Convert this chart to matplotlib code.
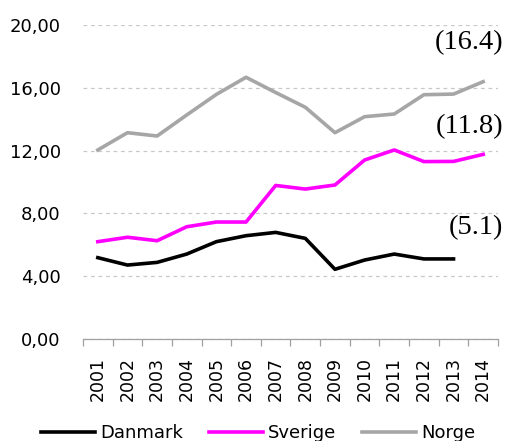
import matplotlib
matplotlib.use("Agg")
import matplotlib.pyplot as plt
import numpy as np

years = ["2001", "2002", "2003", "2004", "2005", "2006", "2007",
         "2008", "2009", "2010", "2011", "2012", "2013", "2014"]
danmark = [5.18, 4.71, 4.88, 5.41, 6.20, 6.58, 6.79, 6.41, 4.44, 5.03, 5.41, 5.10, 5.10, np.nan]
sverige = [6.20, 6.48, 6.26, 7.15, 7.45, 7.45, 9.78, 9.55, 9.81, 11.40, 12.04, 11.30, 11.31, 11.76]
norge = [12.04, 13.14, 12.93, 14.27, 15.58, 16.67, 15.70, 14.76, 13.14, 14.16, 14.33, 15.56, 15.60, 16.39]
annotations = ["(16.4)", "(11.8)", "(5.1)"]
annot_y = [18.9, 13.5, 7.07]

plt.rcParams['font.family'] = ['DejaVu Sans']
fig = plt.figure(figsize=(5.07, 4.41), dpi=100)
ax = fig.add_axes([83/507, 102/441, 415/507, 314/441])

x = np.arange(len(years))
ax.plot(x, danmark, color="black", lw=2.6, label="Danmark", solid_joinstyle="round")
ax.plot(x, sverige, color="#FF00FF", lw=2.6, label="Sverige", solid_joinstyle="round")
ax.plot(x, norge, color="#A6A6A6", lw=2.6, label="Norge", solid_joinstyle="round")

ax.set_xlim(-0.5, len(years) - 0.5)
ax.set_ylim(0, 20)
ax.set_yticks([0, 4, 8, 12, 16, 20])
ax.set_yticklabels(["0,00", "4,00", "8,00", "12,00", "16,00", "20,00"], fontsize=13)
ax.yaxis.grid(True, color="#C8C8C8", linestyle=(0, (3, 3)), lw=0.9)
ax.set_axisbelow(True)

ax.set_xticks(x)
ax.set_xticklabels(years, rotation=90, fontsize=12.5)
ax.set_xticks(np.arange(-0.5, len(years), 1.0), minor=True)
ax.tick_params(axis="x", which="major", length=0, pad=13)
ax.tick_params(axis="x", which="minor", length=5, color="#A0A0A0", width=0.9)
ax.tick_params(axis="y", length=0, pad=16)

for s in ["left", "right", "top"]:
    ax.spines[s].set_visible(False)
ax.spines["bottom"].set_color("#A0A0A0")
ax.spines["bottom"].set_linewidth(0.9)

for txt, yv in zip(annotations, annot_y):
    ax.text(13.68, yv, txt, ha="right", va="center", fontsize=20.5,
            family=["Liberation Serif", "DejaVu Serif"], clip_on=False)

fig.legend(loc="lower center", bbox_to_anchor=(0.509, -0.04), ncol=3, frameon=False,
           fontsize=13, handlelength=3.0, columnspacing=1.45, handletextpad=0.25)

fig.savefig("out.png", dpi=100)
